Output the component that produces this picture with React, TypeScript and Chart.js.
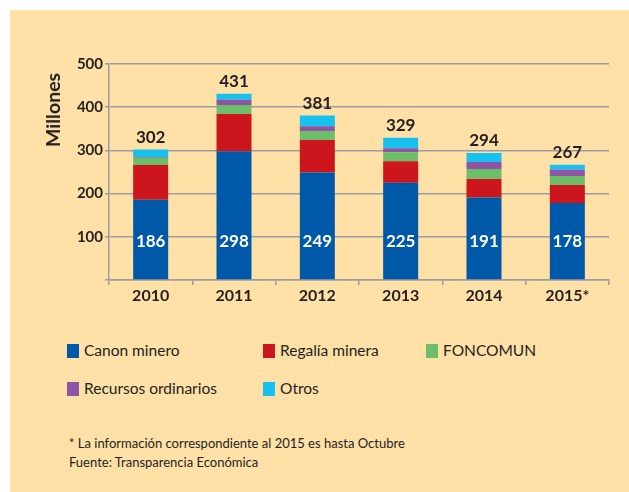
import React, { useEffect, useRef } from "react";
import { Chart, registerables } from "chart.js";

Chart.register(...registerables);

const categories = ["2010", "2011", "2012", "2013", "2014", "2015*"];
const canonMinero = [186, 298, 249, 225, 191, 178];
const regaliaMinera = [80, 86, 75, 50, 43, 42];
const foncomun = [17, 21, 21, 21, 23, 21];
const recursosOrdinarios = [2, 12, 11, 9, 16, 14];
const otros = [17, 14, 25, 24, 21, 12];
const totals = [302, 431, 381, 329, 294, 267];
const yTicks = [100, 200, 300, 400, 500];

const seriesNames = ["Canon minero", "Regalía minera", "FONCOMUN", "Recursos ordinarios", "Otros"];
const seriesColors = ["#0058A8", "#CC151D", "#6CBF68", "#8E55A4", "#16C1F0"];

const FONT = 'Lato, "Open Sans", sans-serif';
const TEXT = "#231F20";
const GRID = "#9A9DA3";
const BG = "#FFE0A7";

const labelsPlugin = {
  id: "barLabels",
  afterDatasetsDraw(chart: any) {
    const { ctx } = chart;
    const xs = chart.scales.x;
    const ys = chart.scales.y;
    ctx.save();
    ctx.textAlign = "center";
    ctx.textBaseline = "middle";
    categories.forEach((_, i) => {
      const x = xs.getPixelForValue(i);
      ctx.fillStyle = TEXT;
      ctx.font = `bold 17px ${FONT}`;
      ctx.fillText(String(totals[i]), x, ys.getPixelForValue(totals[i]) - 12);
      ctx.fillStyle = "#FFFFFF";
      ctx.fillText(String(canonMinero[i]), x, ys.getPixelForValue(89));
    });
    ctx.restore();
  },
};

export default function App() {
  const ref = useRef<HTMLCanvasElement>(null);

  useEffect(() => {
    if (!ref.current) return;
    const data = [canonMinero, regaliaMinera, foncomun, recursosOrdinarios, otros];
    const chart = new Chart(ref.current, {
      type: "bar",
      data: {
        labels: categories,
        datasets: data.map((d, k) => ({
          label: seriesNames[k],
          data: d,
          backgroundColor: seriesColors[k],
          borderWidth: 0,
          barPercentage: 0.42,
          categoryPercentage: 1,
        })),
      },
      options: {
        animation: false,
        responsive: false,
        devicePixelRatio: 1,
        layout: { padding: { left: 0, right: 20, top: 64, bottom: 10 } },
        plugins: { legend: { display: false }, tooltip: { enabled: false } },
        scales: {
          x: {
            stacked: true,
            grid: {
              drawOnChartArea: false,
              drawTicks: true,
              tickLength: 5,
              color: GRID,
              lineWidth: 1.5,
              offset: true,
            },
            border: { color: GRID, width: 1.5 },
            ticks: {
              color: TEXT,
              font: { family: FONT, size: 16, weight: "bold" },
              padding: 1,
            },
            afterFit: (s: any) => {
              s.height = 30;
            },
          },
          y: {
            stacked: true,
            min: 0,
            max: 500,
            afterBuildTicks: (s: any) => {
              s.ticks = [0, ...yTicks].map((v) => ({ value: v }));
            },
            grid: { color: GRID, lineWidth: 1.5, tickLength: 4 },
            border: { color: GRID, width: 1.5 },
            ticks: {
              color: TEXT,
              font: { family: FONT, size: 15, weight: "bold" },
              padding: 2,
              callback: (v: any) => (v === 0 ? "" : String(v)),
            },
            afterFit: (s: any) => {
              s.width = 109;
            },
          },
        },
      },
      plugins: [labelsPlugin],
    });
    return () => chart.destroy();
  }, []);

  const legendPos = [
    { left: 67, top: 343 },
    { left: 263, top: 343 },
    { left: 426, top: 343 },
    { left: 67, top: 381 },
    { left: 263, top: 381 },
  ];

  return (
    <div style={{ position: "fixed", left: 0, top: 0, width: 629, height: 492, overflow: "hidden", fontFamily: FONT }}>
      <div style={{ position: "absolute", left: 10, top: 10, right: 0, bottom: 0, background: BG }} />
      <canvas ref={ref} width={629} height={320} style={{ position: "absolute", left: 0, top: 0 }} />
      <div
        style={{
          position: "absolute",
          left: 53,
          top: 110,
          transform: "translate(-50%, -50%) rotate(-90deg)",
          fontWeight: "bold",
          fontSize: 19.5,
          color: TEXT,
          whiteSpace: "nowrap",
          lineHeight: "20px",
        }}
      >
        Millones
      </div>
      {seriesNames.map((name, k) => (
        <div
          key={name}
          style={{
            position: "absolute",
            left: legendPos[k].left,
            top: legendPos[k].top,
            display: "flex",
            alignItems: "center",
            height: 15,
            whiteSpace: "nowrap",
          }}
        >
          <span style={{ display: "inline-block", width: 12, height: 14, background: seriesColors[k], marginRight: 5 }} />
          <span style={{ fontSize: 15.5, color: TEXT, lineHeight: "15px" }}>{name}</span>
        </div>
      ))}
      <div style={{ position: "absolute", left: 69, top: 434, fontSize: 13, color: TEXT, lineHeight: "18.5px", whiteSpace: "nowrap" }}>
        <div>* La información correspondiente al 2015 es hasta Octubre</div>
        <div>Fuente: Transparencia Económica</div>
      </div>
    </div>
  );
}
